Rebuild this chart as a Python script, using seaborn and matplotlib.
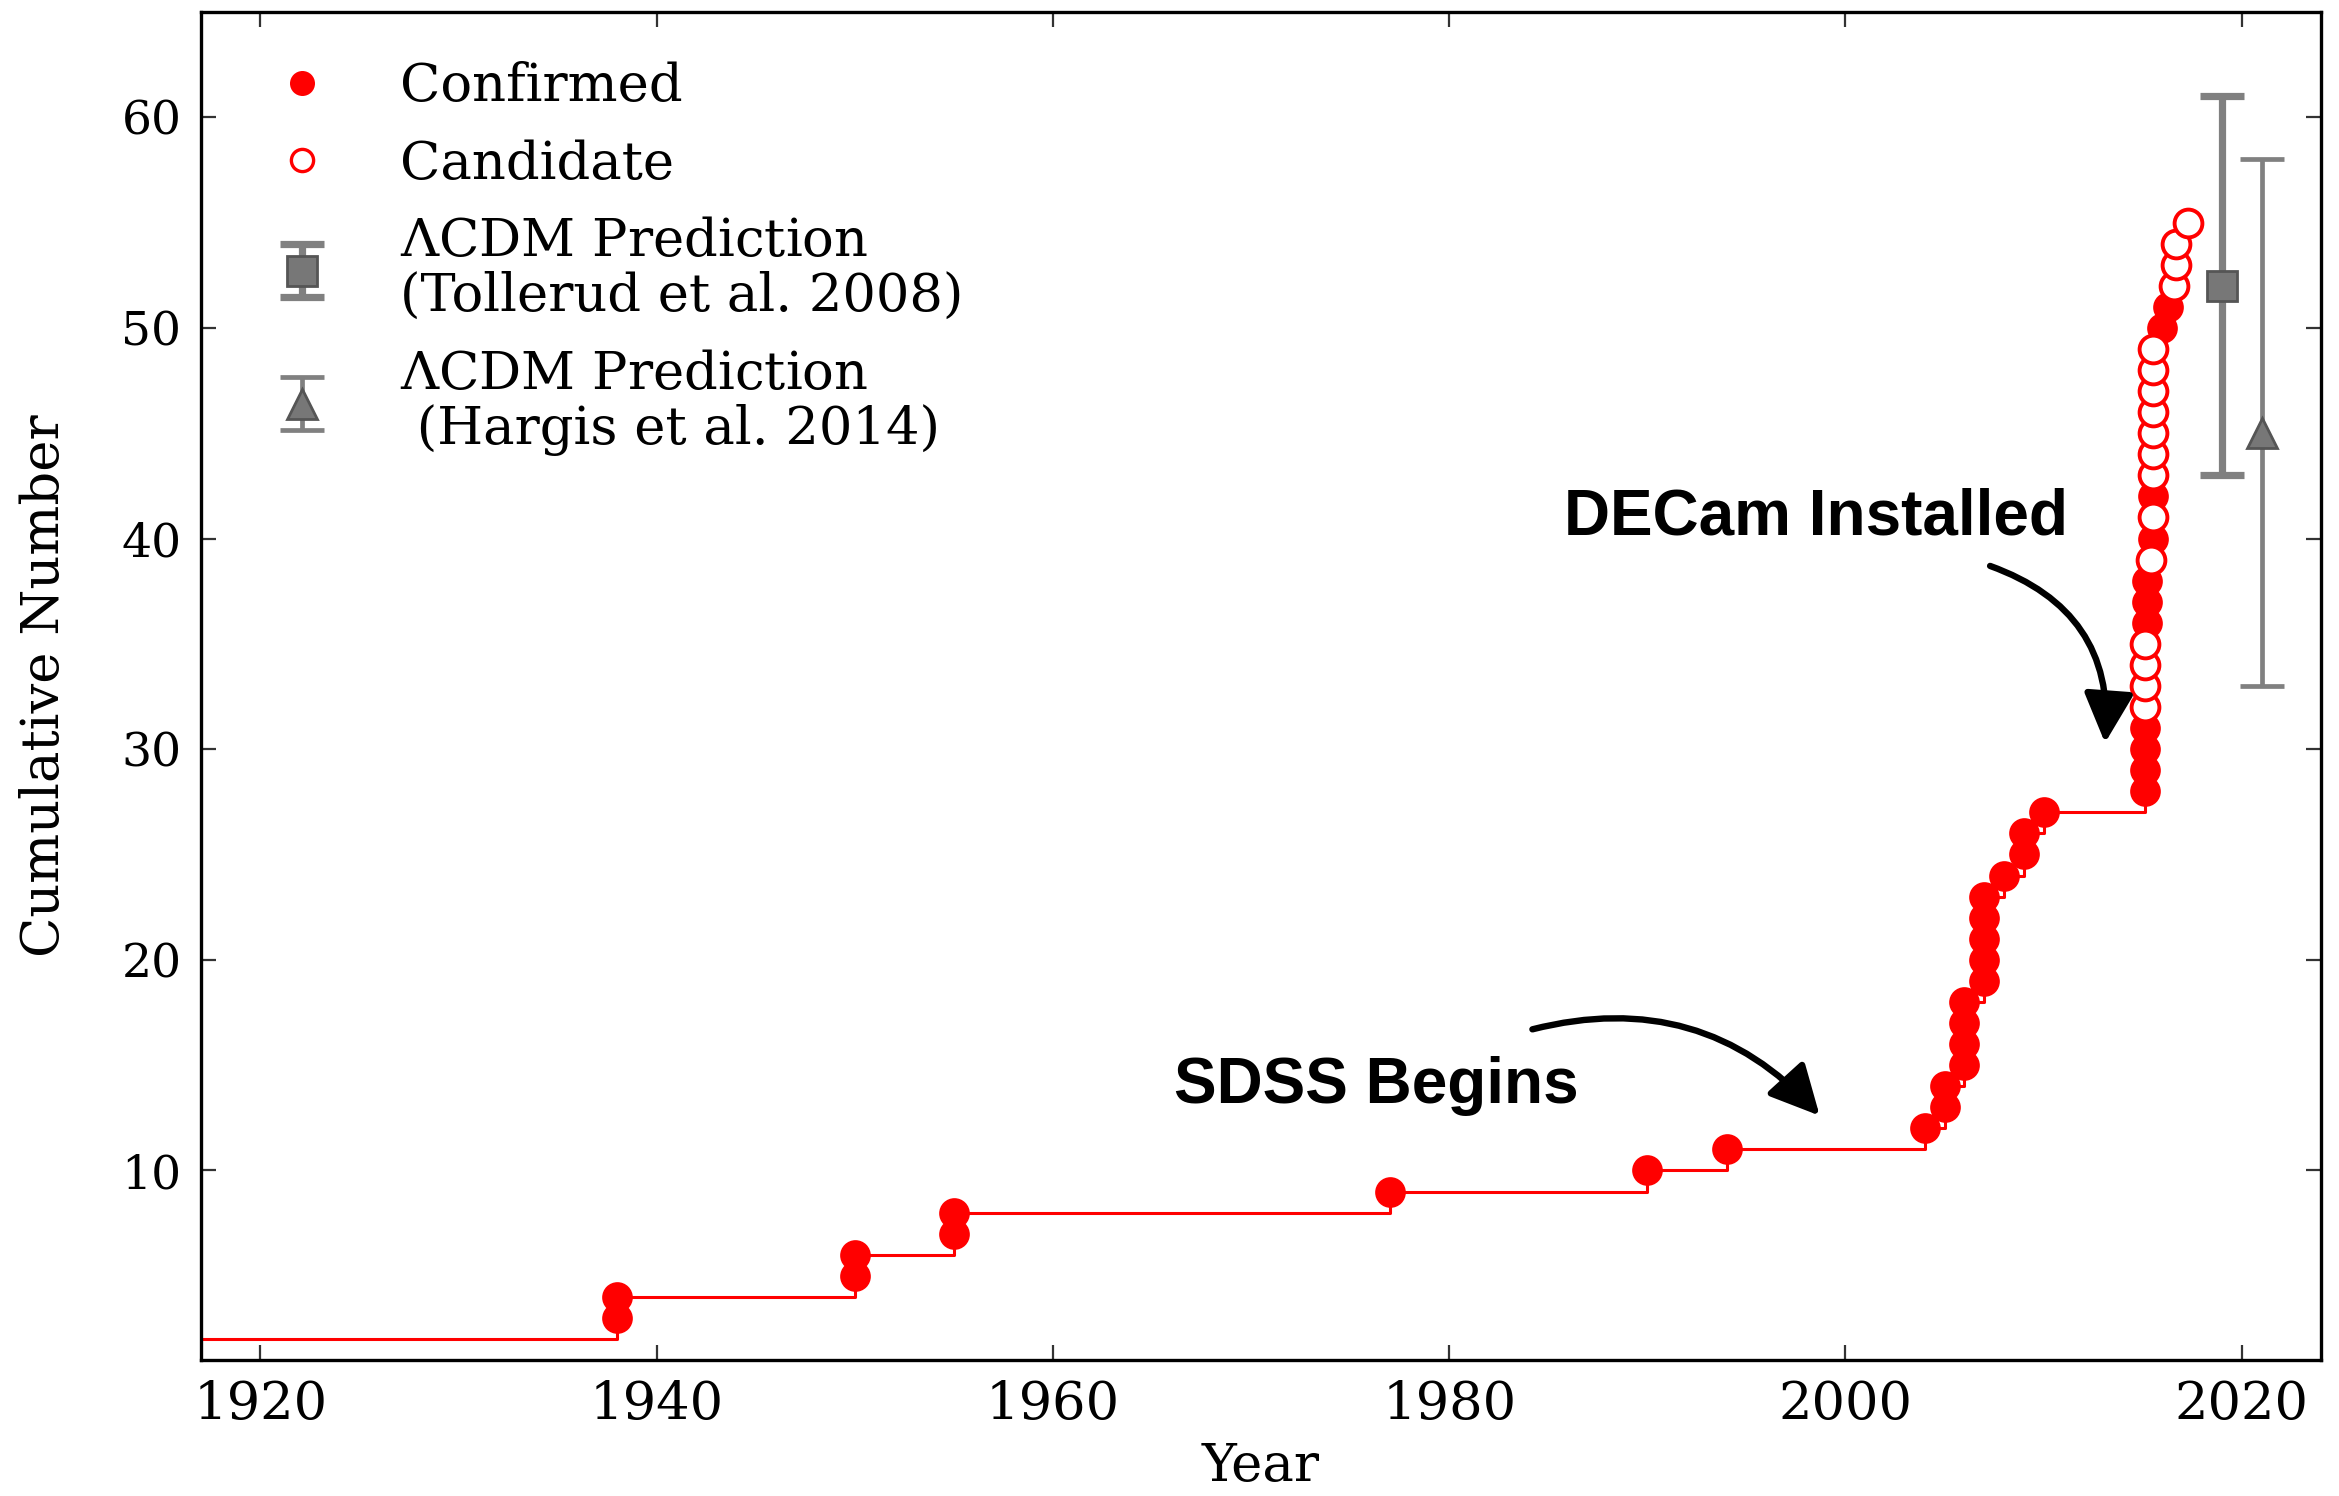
import numpy as np
import pandas as pd
import matplotlib
matplotlib.use("Agg")
import matplotlib.pyplot as plt
import seaborn as sns
from matplotlib.lines import Line2D

# Satellites known before the first survey discoveries (LMC, SMC)
baseline_year = 1900
baseline_count = 2

# Confirmed Milky Way satellites: discovery epoch and running total
confirmed_year = [1938, 1938, 1950, 1950, 1955, 1955, 1977, 1990, 1994,
                  2004, 2005, 2005, 2006, 2006, 2006, 2006,
                  2007, 2007, 2007, 2007, 2007, 2008, 2009, 2009, 2010,
                  2015.1, 2015.1, 2015.1, 2015.1, 2015.2, 2015.2, 2015.2,
                  2015.5, 2015.5, 2016.0, 2016.3]
confirmed_count = [3, 4, 5, 6, 7, 8, 9, 10, 11,
                   12, 13, 14, 15, 16, 17, 18,
                   19, 20, 21, 22, 23, 24, 25, 26, 27,
                   28, 29, 30, 31, 36, 37, 38,
                   40, 42, 50, 51]

# Candidate satellites: discovery epoch and running total
candidate_year = [2015.1, 2015.1, 2015.1, 2015.1, 2015.4, 2015.5,
                  2015.5, 2015.5, 2015.5, 2015.5, 2015.5, 2015.5, 2015.5,
                  2016.6, 2016.7, 2016.7, 2017.3]
candidate_count = [32, 33, 34, 35, 39, 41,
                   43, 44, 45, 46, 47, 48, 49,
                   52, 53, 54, 55]

# LCDM predictions: plotted year, central value, lower / upper error
tollerud_year, tollerud_value, tollerud_err = 2019, 52, (9, 9)
hargis_year, hargis_value, hargis_err = 2021, 45, (12, 13)

sns.set_theme(style="ticks")
plt.rcParams["font.family"] = ["DejaVu Serif"]
plt.rcParams["mathtext.fontset"] = "dejavuserif"
for key in ("text.color", "axes.labelcolor", "xtick.color", "ytick.color"):
    plt.rcParams[key] = "black"

fig = plt.figure(figsize=(11.695, 7.48), dpi=200)
ax = fig.add_axes([0.0859, 0.0909, 0.9064, 0.9011])

# Cumulative step curve through every discovery
steps = pd.DataFrame({
    "year": [baseline_year] + confirmed_year + candidate_year,
    "count": [baseline_count] + confirmed_count + candidate_count,
}).sort_values("count", kind="stable")
sns.lineplot(data=steps, x="year", y="count", estimator=None, sort=False,
             drawstyle="steps-post", color="red", lw=1.1, ax=ax, zorder=2)

sns.scatterplot(x=confirmed_year, y=confirmed_count, color="red",
                edgecolor="red", s=105, linewidth=0.8, ax=ax, zorder=3)
sns.scatterplot(x=candidate_year, y=candidate_count, color="white",
                edgecolor="red", s=100, linewidth=1.4, ax=ax, zorder=3)

grey = "#808080"
eb1 = ax.errorbar([tollerud_year], [tollerud_value],
                  yerr=[[tollerud_err[0]], [tollerud_err[1]]],
                  fmt="s", color=grey, mfc="#777777", mec="#555555",
                  ms=11, elinewidth=2.6, capsize=8, capthick=2.6, zorder=4)
eb2 = ax.errorbar([hargis_year], [hargis_value],
                  yerr=[[hargis_err[0]], [hargis_err[1]]],
                  fmt="^", color=grey, mfc="#777777", mec="#555555",
                  ms=11, elinewidth=1.7, capsize=8, capthick=1.7, zorder=4)

# Milestone annotations
label_font = dict(family="Liberation Sans", fontweight="bold", fontsize=23,
                  color="black")
ax.text(1998.5, 41.0, "DECam Installed", ha="center", va="center", **label_font)
ax.text(1976.3, 14.0, "SDSS Begins", ha="center", va="center", **label_font)
arrow = dict(arrowstyle="-|>", color="black", lw=2.3, mutation_scale=38,
             shrinkA=0, shrinkB=0)
ax.annotate("", xy=(2013.1, 30.3), xytext=(2007.3, 38.7),
            arrowprops=dict(connectionstyle="arc3,rad=-0.38", **arrow))
ax.annotate("", xy=(1998.7, 12.6), xytext=(1984.2, 16.7),
            arrowprops=dict(connectionstyle="arc3,rad=-0.3", **arrow))

ax.set_xlim(1917, 2024)
ax.set_ylim(1, 65)
ax.set_xticks([1920, 1940, 1960, 1980, 2000, 2020])
ax.set_yticks([10, 20, 30, 40, 50, 60])
ax.tick_params(direction="in", top=True, right=True, length=5.5, width=0.8,
               color="#333333", pad=7)
ax.tick_params(axis="x", labelsize=19)
ax.tick_params(axis="y", labelsize=17)
for side in ax.spines.values():
    side.set_color("black")
    side.set_linewidth(1.2)

ax.set_xlabel("Year", fontsize=19)
ax.set_ylabel("Cumulative Number", fontsize=19)
ax.xaxis.set_label_coords(0.5, -0.06)
ax.yaxis.set_label_coords(-0.074, 0.5)
ax.xaxis.label.set_va("top")
ax.yaxis.label.set_va("center")

handles = [
    Line2D([], [], marker="o", ls="none", color="red", ms=8),
    Line2D([], [], marker="o", ls="none", mfc="white", mec="red", mew=1.2, ms=8),
    eb1, eb2,
]
labels = [
    "Confirmed",
    "Candidate",
    "$\\Lambda$CDM Prediction\n(Tollerud et al. 2008)",
    "$\\Lambda$CDM Prediction\n (Hargis et al. 2014)",
]
leg = ax.legend(handles, labels, loc="upper left", bbox_to_anchor=(0.018, 0.979),
                frameon=False, fontsize=19, borderaxespad=0, borderpad=0.4,
                handlelength=1.6, handletextpad=1.05, labelspacing=0.5)
for t in leg.get_texts():
    t.set_linespacing(1.1)

fig.savefig("out.png", dpi=200)
